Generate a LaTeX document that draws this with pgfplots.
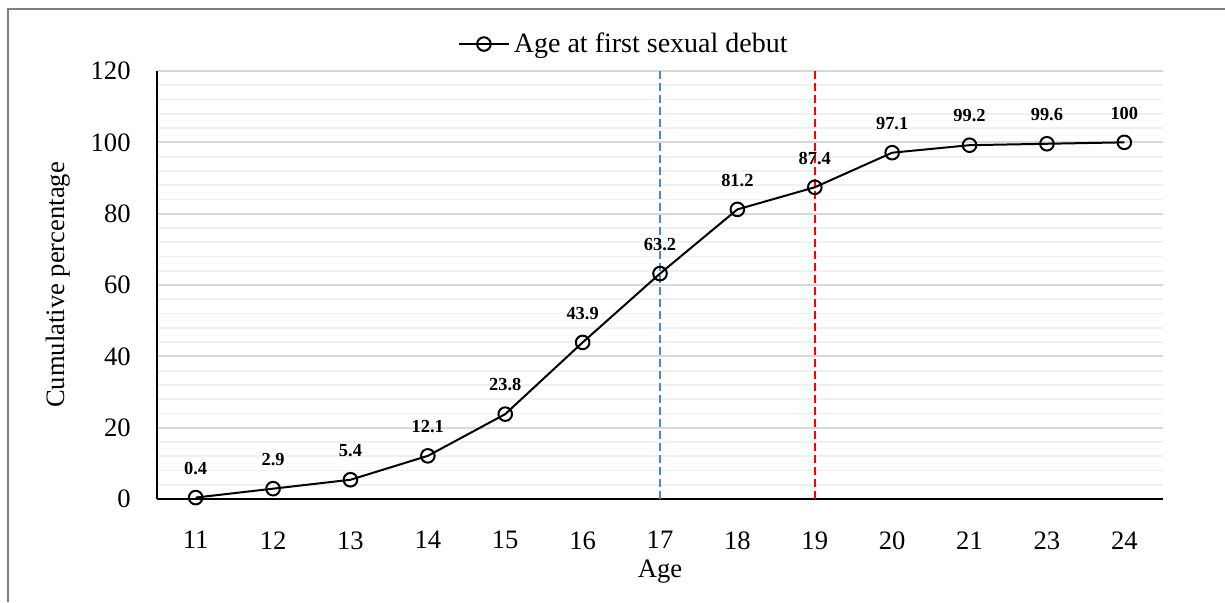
\documentclass[border=0pt]{standalone}
\usepackage{fontspec}
\setmainfont{Liberation Serif}
\usepackage{pgfplots}
\pgfplotsset{compat=1.18}
\usetikzlibrary{calc}
\definecolor{majgrid}{RGB}{217,217,217}
\definecolor{mingrid}{RGB}{240,240,240}
\definecolor{frame}{RGB}{128,128,128}
\definecolor{blueline}{RGB}{74,134,214}
\begin{document}
\begin{tikzpicture}
\useasboundingbox (0,0) rectangle (612.5pt,301pt);
\fill[white] (0,0) rectangle (612.5pt,301pt);
\draw[frame, line width=1pt] (4pt,0) -- (4pt,296.75pt) -- (612.5pt,296.75pt);
\begin{axis}[
  at={(78.5pt,51.5pt)}, anchor=south west,
  scale only axis, width=503pt, height=214pt,
  xmin=-0.5, xmax=12.5, ymin=0, ymax=120,
  xtick={0,...,12},
  xticklabels={11,12,13,14,15,16,17,18,19,20,21,23,24},
  ytick={0,20,...,120},
  minor y tick num=4,
  ymajorgrids, yminorgrids,
  major grid style={majgrid, line width=0.9pt},
  minor grid style={mingrid, line width=0.9pt},
  axis x line*=bottom, axis y line*=left,
  axis line style={black, line width=0.9pt, -},
  major tick length=0pt, minor tick length=0pt,
  tick label style={font=\fontsize{13.3}{16}\selectfont},
  /pgf/number format/assume math mode=true,
  xticklabel style={anchor=north, inner sep=0pt, yshift=-16pt},
  yticklabel style={anchor=east, inner sep=0pt, xshift=-13pt},
  xlabel={Age},
  ylabel={Cumulative percentage},
  label style={font=\fontsize{13.3}{16}\selectfont},
  xlabel style={at={(axis description cs:0.5,0)}, anchor=center, yshift=-36.5pt},
  ylabel style={at={($(axis description cs:0,0.5)+(-49.5pt,0pt)$)}, anchor=center},
  legend style={at={(0.465,1.063)}, anchor=center, draw=none, fill=none,
    font=\fontsize{14}{16}\selectfont, inner sep=0pt},
  legend cell align=left,
  clip=false,
]
\addplot[blueline, line width=1pt, dash pattern=on 4pt off 2pt, forget plot]
  coordinates {(6,0) (6,120)};
\addplot[red, line width=1pt, dash pattern=on 4pt off 2pt, forget plot]
  coordinates {(8,0) (8,120)};
\addplot[black, line width=1pt, mark=o, mark size=3.4pt,
  mark options={fill=white, line width=1pt},
  point meta=explicit symbolic,
  nodes near coords,
  every node near coord/.append style={font=\fontsize{9.2}{11}\selectfont\bfseries, inner sep=0pt, yshift=11pt, text=black},
  legend image code/.code={
    \draw[mark repeat=2, mark phase=2] plot coordinates {(0pt,0pt) (12.5pt,0pt) (25pt,0pt)};
  },
] table[meta=lab] {
x y lab
0 0.4 0.4
1 2.9 2.9
2 5.4 5.4
3 12.1 12.1
4 23.8 23.8
5 43.9 43.9
6 63.2 63.2
7 81.2 81.2
8 87.4 87.4
9 97.1 97.1
10 99.2 99.2
11 99.6 99.6
12 100 100
};
\addlegendentry{Age at first sexual debut}
\end{axis}
\end{tikzpicture}
\end{document}
